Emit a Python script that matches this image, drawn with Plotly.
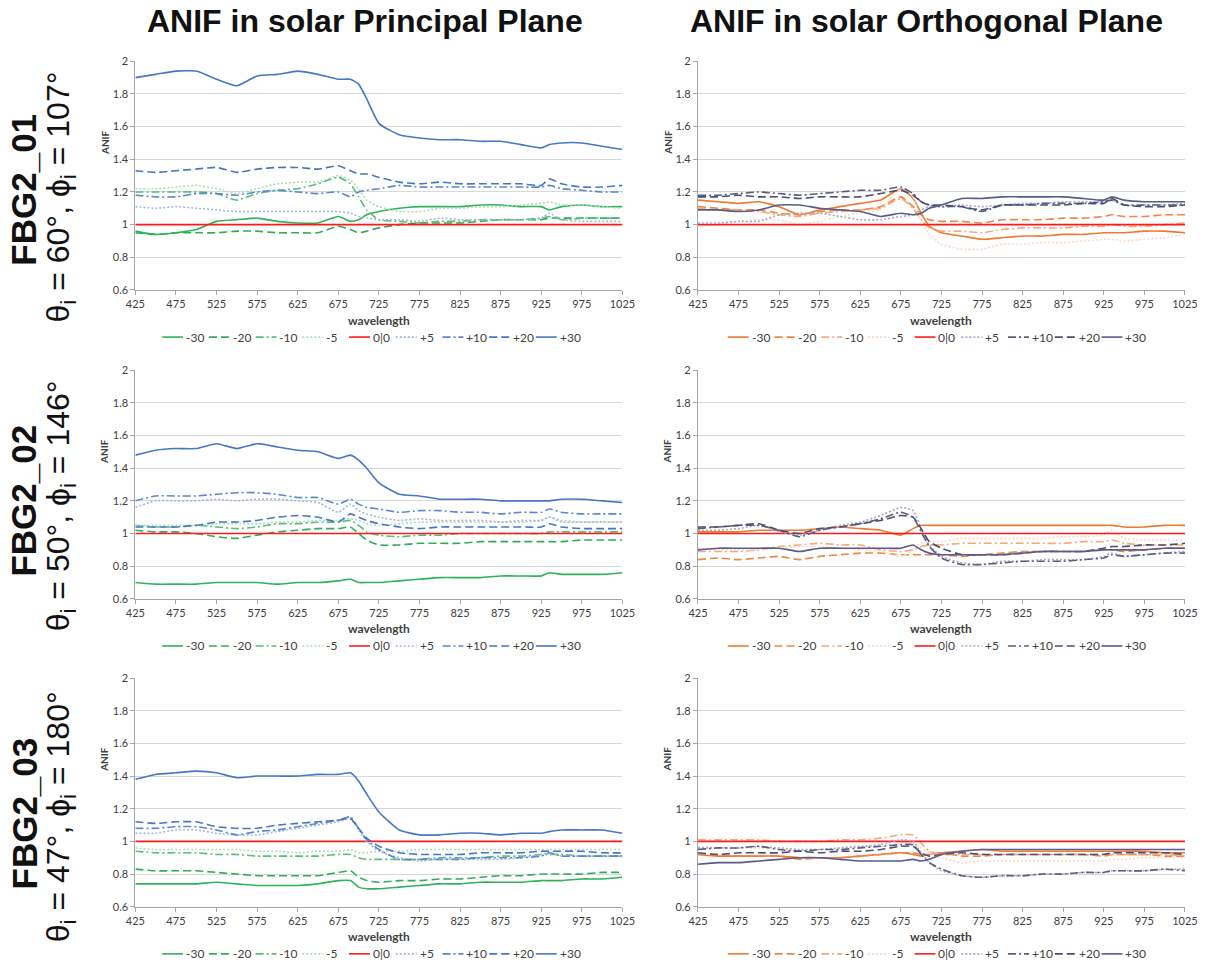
import plotly.graph_objects as go

# ---------------- data ----------------
WAVELENGTH = [425, 450, 475, 500, 525, 550, 575, 600, 625, 650, 675, 690, 700, 710,
              725, 750, 775, 800, 825, 850, 875, 900, 925, 935, 950, 975, 1000, 1025]
SERIES = ["-30", "-20", "-10", "-5", "0|0", "+5", "+10", "+20", "+30"]
X_TICKS = [425, 475, 525, 575, 625, 675, 725, 775, 825, 875, 925, 975, 1025]
Y_TICKS = [0.6, 0.8, 1.0, 1.2, 1.4, 1.6, 1.8, 2.0]
Y_TICK_TEXT = ["0.6", "0.8", "1", "1.2", "1.4", "1.6", "1.8", "2"]
REF_LINE = [1.0, 1.0, 1.0, 1.0, 1.0, 1.0, 1.0, 1.0, 1.0, 1.0, 1.0, 1.0, 1.0, 1.0,
            1.0, 1.0, 1.0, 1.0, 1.0, 1.0, 1.0, 1.0, 1.0, 1.0, 1.0, 1.0, 1.0, 1.0]

COL_TITLES = ["ANIF in solar Principal Plane", "ANIF in solar Orthogonal Plane"]
ROW_NAMES = ["FBG2_01", "FBG2_02", "FBG2_03"]
ROW_ANGLES = ["θ<sub>i</sub> = 60°, ϕ<sub>i</sub> = 107°",
              "θ<sub>i</sub> = 50°, ϕ<sub>i</sub> = 146°",
              "θ<sub>i</sub> = 47°, ϕ<sub>i</sub> = 180°"]

# FBG2_01 principal plane
PP1_M30 = [0.96, 0.94, 0.95, 0.97, 1.02, 1.03, 1.04, 1.02, 1.01, 1.01, 1.05, 1.02, 1.03, 1.06, 1.08, 1.10, 1.11, 1.11, 1.11, 1.12, 1.12, 1.11, 1.11, 1.09, 1.11, 1.12, 1.11, 1.11]
PP1_M20 = [0.95, 0.94, 0.95, 0.95, 0.95, 0.96, 0.96, 0.95, 0.95, 0.95, 0.99, 0.97, 0.95, 0.96, 0.98, 1.00, 1.01, 1.01, 1.01, 1.02, 1.03, 1.03, 1.03, 1.04, 1.04, 1.04, 1.04, 1.04]
PP1_M10 = [1.20, 1.20, 1.20, 1.20, 1.19, 1.15, 1.19, 1.21, 1.22, 1.25, 1.29, 1.25, 1.17, 1.09, 1.03, 1.02, 1.01, 1.02, 1.02, 1.03, 1.03, 1.03, 1.04, 1.05, 1.03, 1.04, 1.04, 1.04]
PP1_M05 = [1.22, 1.22, 1.23, 1.24, 1.22, 1.19, 1.22, 1.25, 1.26, 1.26, 1.30, 1.27, 1.22, 1.15, 1.11, 1.08, 1.08, 1.10, 1.10, 1.11, 1.11, 1.12, 1.13, 1.14, 1.12, 1.12, 1.11, 1.10]
PP1_P05 = [1.11, 1.10, 1.11, 1.10, 1.09, 1.08, 1.08, 1.08, 1.08, 1.08, 1.08, 1.07, 1.05, 1.04, 1.03, 1.03, 1.02, 1.04, 1.03, 1.03, 1.03, 1.03, 1.04, 1.07, 1.03, 1.02, 1.02, 1.02]
PP1_P10 = [1.18, 1.17, 1.17, 1.19, 1.19, 1.18, 1.20, 1.21, 1.20, 1.19, 1.20, 1.17, 1.20, 1.21, 1.22, 1.24, 1.23, 1.23, 1.23, 1.23, 1.23, 1.23, 1.23, 1.24, 1.22, 1.21, 1.20, 1.20]
PP1_P20 = [1.33, 1.32, 1.33, 1.34, 1.35, 1.32, 1.34, 1.35, 1.35, 1.34, 1.36, 1.33, 1.31, 1.31, 1.29, 1.26, 1.25, 1.26, 1.25, 1.25, 1.25, 1.25, 1.24, 1.28, 1.25, 1.23, 1.23, 1.24]
PP1_P30 = [1.90, 1.92, 1.94, 1.94, 1.89, 1.85, 1.91, 1.92, 1.94, 1.92, 1.89, 1.89, 1.86, 1.77, 1.62, 1.55, 1.53, 1.52, 1.52, 1.51, 1.51, 1.49, 1.47, 1.49, 1.50, 1.50, 1.48, 1.46]

# FBG2_01 orthogonal plane
OP1_M30 = [1.15, 1.14, 1.13, 1.14, 1.11, 1.06, 1.09, 1.11, 1.13, 1.15, 1.22, 1.16, 1.07, 0.99, 0.95, 0.93, 0.91, 0.92, 0.93, 0.93, 0.94, 0.94, 0.95, 0.95, 0.95, 0.96, 0.96, 0.95]
OP1_M20 = [1.11, 1.10, 1.09, 1.09, 1.07, 1.06, 1.08, 1.09, 1.09, 1.11, 1.17, 1.11, 1.06, 1.03, 1.02, 1.02, 1.01, 1.03, 1.03, 1.03, 1.04, 1.04, 1.05, 1.06, 1.05, 1.05, 1.06, 1.06]
OP1_M10 = [1.10, 1.09, 1.09, 1.08, 1.06, 1.05, 1.07, 1.08, 1.09, 1.10, 1.16, 1.10, 1.03, 0.98, 0.96, 0.96, 0.95, 0.97, 0.98, 0.98, 0.98, 0.99, 0.99, 1.00, 0.99, 0.99, 1.00, 1.01]
OP1_M05 = [1.00, 1.00, 1.02, 1.03, 1.03, 1.00, 1.02, 1.05, 1.07, 1.09, 1.23, 1.17, 1.02, 0.94, 0.88, 0.85, 0.85, 0.88, 0.88, 0.89, 0.89, 0.90, 0.91, 0.91, 0.90, 0.91, 0.92, 0.94]
OP1_P05 = [1.01, 1.01, 1.02, 1.02, 1.06, 1.07, 1.07, 1.05, 1.03, 1.03, 1.05, 1.06, 1.09, 1.11, 1.11, 1.12, 1.11, 1.12, 1.13, 1.13, 1.14, 1.14, 1.14, 1.15, 1.12, 1.12, 1.12, 1.13]
OP1_P10 = [1.18, 1.18, 1.19, 1.20, 1.19, 1.18, 1.19, 1.20, 1.21, 1.21, 1.23, 1.19, 1.14, 1.12, 1.11, 1.11, 1.08, 1.12, 1.12, 1.13, 1.13, 1.13, 1.14, 1.15, 1.12, 1.12, 1.12, 1.12]
OP1_P20 = [1.17, 1.17, 1.18, 1.17, 1.17, 1.16, 1.17, 1.17, 1.17, 1.19, 1.21, 1.18, 1.14, 1.12, 1.12, 1.11, 1.09, 1.12, 1.12, 1.12, 1.12, 1.13, 1.13, 1.16, 1.12, 1.11, 1.11, 1.12]
OP1_P30 = [1.09, 1.09, 1.08, 1.09, 1.12, 1.12, 1.10, 1.09, 1.08, 1.05, 1.07, 1.06, 1.07, 1.10, 1.12, 1.16, 1.16, 1.17, 1.17, 1.17, 1.17, 1.16, 1.15, 1.17, 1.15, 1.14, 1.14, 1.14]

# FBG2_02 principal plane
PP2_M30 = [0.70, 0.69, 0.69, 0.69, 0.70, 0.70, 0.70, 0.69, 0.70, 0.70, 0.71, 0.72, 0.70, 0.70, 0.70, 0.71, 0.72, 0.73, 0.73, 0.73, 0.74, 0.74, 0.74, 0.76, 0.75, 0.75, 0.75, 0.76]
PP2_M20 = [1.02, 1.01, 1.01, 1.00, 0.98, 0.97, 0.99, 1.01, 1.02, 1.03, 1.03, 1.04, 1.00, 0.96, 0.93, 0.93, 0.94, 0.94, 0.94, 0.95, 0.95, 0.95, 0.95, 0.95, 0.95, 0.96, 0.96, 0.96]
PP2_M10 = [1.05, 1.04, 1.04, 1.05, 1.04, 1.03, 1.04, 1.06, 1.06, 1.07, 1.07, 1.08, 1.05, 1.01, 0.99, 0.98, 0.99, 0.99, 1.00, 1.00, 1.00, 1.00, 1.00, 1.01, 1.01, 1.01, 1.01, 1.01]
PP2_M05 = [1.05, 1.05, 1.05, 1.05, 1.06, 1.06, 1.06, 1.07, 1.07, 1.08, 1.08, 1.09, 1.08, 1.06, 1.05, 1.06, 1.07, 1.07, 1.07, 1.07, 1.07, 1.07, 1.08, 1.10, 1.08, 1.07, 1.07, 1.07]
PP2_P05 = [1.16, 1.20, 1.20, 1.20, 1.21, 1.20, 1.21, 1.21, 1.20, 1.19, 1.13, 1.18, 1.14, 1.12, 1.10, 1.08, 1.09, 1.08, 1.08, 1.08, 1.07, 1.08, 1.08, 1.10, 1.07, 1.07, 1.07, 1.07]
PP2_P10 = [1.20, 1.23, 1.23, 1.23, 1.24, 1.25, 1.25, 1.24, 1.22, 1.22, 1.18, 1.21, 1.18, 1.16, 1.15, 1.13, 1.14, 1.14, 1.13, 1.13, 1.12, 1.13, 1.13, 1.15, 1.13, 1.12, 1.12, 1.12]
PP2_P20 = [1.04, 1.04, 1.04, 1.05, 1.07, 1.07, 1.08, 1.10, 1.11, 1.10, 1.07, 1.12, 1.10, 1.08, 1.06, 1.04, 1.03, 1.04, 1.04, 1.04, 1.04, 1.04, 1.04, 1.06, 1.04, 1.03, 1.03, 1.03]
PP2_P30 = [1.48, 1.51, 1.52, 1.52, 1.55, 1.52, 1.55, 1.53, 1.51, 1.50, 1.46, 1.48, 1.45, 1.40, 1.31, 1.24, 1.23, 1.21, 1.21, 1.21, 1.20, 1.20, 1.20, 1.20, 1.21, 1.21, 1.20, 1.19]

# FBG2_02 orthogonal plane
OP2_M30 = [1.01, 1.01, 1.01, 1.02, 1.02, 1.02, 1.03, 1.04, 1.03, 1.02, 0.99, 1.03, 1.05, 1.05, 1.05, 1.05, 1.05, 1.05, 1.05, 1.05, 1.05, 1.05, 1.05, 1.05, 1.04, 1.04, 1.05, 1.05]
OP2_M20 = [0.84, 0.85, 0.84, 0.85, 0.86, 0.84, 0.86, 0.87, 0.88, 0.88, 0.87, 0.87, 0.87, 0.87, 0.87, 0.86, 0.87, 0.88, 0.89, 0.89, 0.89, 0.89, 0.90, 0.90, 0.89, 0.90, 0.91, 0.91]
OP2_M10 = [0.89, 0.89, 0.89, 0.90, 0.92, 0.93, 0.94, 0.93, 0.93, 0.90, 0.89, 0.90, 0.92, 0.93, 0.93, 0.94, 0.94, 0.94, 0.94, 0.94, 0.94, 0.95, 0.95, 0.96, 0.94, 0.93, 0.93, 0.93]
OP2_M05 = [0.91, 0.90, 0.90, 0.90, 0.91, 0.92, 0.92, 0.91, 0.90, 0.89, 0.86, 0.90, 0.94, 0.95, 0.95, 0.97, 0.97, 0.97, 0.97, 0.97, 0.98, 0.98, 0.99, 1.02, 0.97, 0.96, 0.96, 0.96]
OP2_P05 = [1.02, 1.02, 1.03, 1.05, 1.01, 0.99, 1.02, 1.05, 1.07, 1.11, 1.16, 1.14, 1.03, 0.93, 0.86, 0.82, 0.81, 0.83, 0.83, 0.84, 0.84, 0.84, 0.86, 0.88, 0.86, 0.87, 0.88, 0.89]
OP2_P10 = [1.03, 1.04, 1.05, 1.05, 1.02, 0.98, 1.02, 1.04, 1.06, 1.09, 1.13, 1.10, 1.01, 0.92, 0.85, 0.81, 0.81, 0.82, 0.83, 0.83, 0.83, 0.84, 0.85, 0.87, 0.86, 0.87, 0.88, 0.88]
OP2_P20 = [1.04, 1.04, 1.05, 1.06, 1.02, 1.00, 1.03, 1.04, 1.06, 1.08, 1.11, 1.10, 1.03, 0.95, 0.91, 0.87, 0.87, 0.87, 0.88, 0.89, 0.89, 0.89, 0.91, 0.92, 0.92, 0.93, 0.93, 0.94]
OP2_P30 = [0.90, 0.91, 0.91, 0.91, 0.91, 0.89, 0.91, 0.91, 0.91, 0.91, 0.91, 0.93, 0.90, 0.88, 0.87, 0.87, 0.87, 0.87, 0.88, 0.89, 0.89, 0.89, 0.90, 0.90, 0.90, 0.90, 0.91, 0.91]

# FBG2_03 principal plane
PP3_M30 = [0.74, 0.74, 0.74, 0.74, 0.75, 0.74, 0.73, 0.73, 0.73, 0.74, 0.76, 0.76, 0.72, 0.71, 0.71, 0.72, 0.73, 0.74, 0.74, 0.75, 0.75, 0.75, 0.76, 0.76, 0.76, 0.77, 0.77, 0.78]
PP3_M20 = [0.83, 0.82, 0.82, 0.82, 0.81, 0.80, 0.79, 0.79, 0.79, 0.79, 0.81, 0.82, 0.78, 0.76, 0.75, 0.76, 0.76, 0.77, 0.77, 0.78, 0.79, 0.79, 0.80, 0.80, 0.80, 0.80, 0.81, 0.81]
PP3_M10 = [0.94, 0.93, 0.93, 0.93, 0.92, 0.92, 0.91, 0.91, 0.91, 0.91, 0.92, 0.92, 0.90, 0.89, 0.89, 0.89, 0.89, 0.90, 0.90, 0.90, 0.91, 0.91, 0.92, 0.92, 0.92, 0.91, 0.91, 0.91]
PP3_M05 = [0.96, 0.95, 0.95, 0.95, 0.95, 0.95, 0.94, 0.94, 0.93, 0.94, 0.94, 0.95, 0.93, 0.93, 0.94, 0.94, 0.95, 0.95, 0.95, 0.95, 0.95, 0.95, 0.95, 0.95, 0.95, 0.95, 0.95, 0.95]
PP3_P05 = [1.05, 1.05, 1.07, 1.07, 1.05, 1.04, 1.04, 1.06, 1.08, 1.10, 1.12, 1.14, 1.07, 1.00, 0.94, 0.90, 0.88, 0.89, 0.89, 0.89, 0.89, 0.90, 0.92, 0.93, 0.91, 0.91, 0.91, 0.91]
PP3_P10 = [1.08, 1.08, 1.09, 1.09, 1.07, 1.04, 1.06, 1.07, 1.09, 1.11, 1.13, 1.15, 1.08, 1.01, 0.95, 0.89, 0.89, 0.89, 0.89, 0.90, 0.90, 0.90, 0.91, 0.93, 0.91, 0.91, 0.91, 0.91]
PP3_P20 = [1.12, 1.11, 1.12, 1.12, 1.09, 1.08, 1.08, 1.10, 1.11, 1.12, 1.13, 1.14, 1.08, 1.02, 0.97, 0.93, 0.92, 0.92, 0.92, 0.93, 0.93, 0.93, 0.94, 0.94, 0.94, 0.94, 0.93, 0.93]
PP3_P30 = [1.38, 1.41, 1.42, 1.43, 1.42, 1.39, 1.40, 1.40, 1.40, 1.41, 1.41, 1.42, 1.37, 1.29, 1.18, 1.07, 1.04, 1.04, 1.05, 1.05, 1.04, 1.05, 1.05, 1.06, 1.07, 1.07, 1.07, 1.05]

# FBG2_03 orthogonal plane
OP3_M30 = [0.92, 0.91, 0.91, 0.91, 0.91, 0.90, 0.90, 0.90, 0.91, 0.92, 0.93, 0.92, 0.91, 0.92, 0.93, 0.94, 0.95, 0.94, 0.94, 0.94, 0.94, 0.94, 0.94, 0.94, 0.94, 0.94, 0.93, 0.93]
OP3_M20 = [0.92, 0.92, 0.91, 0.91, 0.91, 0.89, 0.90, 0.90, 0.91, 0.92, 0.93, 0.93, 0.92, 0.92, 0.93, 0.91, 0.91, 0.92, 0.92, 0.92, 0.92, 0.92, 0.91, 0.92, 0.92, 0.92, 0.91, 0.91]
OP3_M10 = [1.01, 1.01, 1.01, 1.01, 1.00, 1.00, 1.00, 1.01, 1.01, 1.02, 1.04, 1.04, 0.99, 0.94, 0.92, 0.92, 0.92, 0.92, 0.92, 0.92, 0.92, 0.92, 0.92, 0.92, 0.92, 0.92, 0.92, 0.91]
OP3_M05 = [0.97, 0.96, 0.96, 0.96, 0.95, 0.95, 0.95, 0.96, 0.97, 0.97, 0.99, 0.99, 0.96, 0.93, 0.90, 0.87, 0.88, 0.88, 0.88, 0.88, 0.88, 0.88, 0.88, 0.89, 0.89, 0.90, 0.90, 0.90]
OP3_P05 = [0.96, 0.96, 0.96, 0.97, 0.96, 0.95, 0.95, 0.96, 0.97, 0.98, 1.01, 1.00, 0.93, 0.87, 0.82, 0.79, 0.78, 0.79, 0.79, 0.80, 0.80, 0.81, 0.81, 0.82, 0.82, 0.82, 0.83, 0.83]
OP3_P10 = [0.95, 0.96, 0.96, 0.97, 0.95, 0.94, 0.95, 0.95, 0.96, 0.97, 0.98, 0.98, 0.92, 0.87, 0.83, 0.79, 0.78, 0.79, 0.79, 0.80, 0.80, 0.81, 0.81, 0.82, 0.82, 0.82, 0.83, 0.82]
OP3_P20 = [0.93, 0.92, 0.93, 0.93, 0.93, 0.94, 0.93, 0.94, 0.94, 0.95, 0.97, 0.97, 0.93, 0.91, 0.92, 0.93, 0.92, 0.92, 0.92, 0.92, 0.92, 0.92, 0.92, 0.93, 0.93, 0.93, 0.93, 0.92]
OP3_P30 = [0.86, 0.87, 0.87, 0.88, 0.89, 0.90, 0.90, 0.89, 0.88, 0.88, 0.88, 0.89, 0.88, 0.89, 0.92, 0.94, 0.95, 0.95, 0.95, 0.95, 0.95, 0.95, 0.95, 0.95, 0.95, 0.95, 0.95, 0.95]

PANEL_DATA = [
    [PP1_M30, PP1_M20, PP1_M10, PP1_M05, REF_LINE, PP1_P05, PP1_P10, PP1_P20, PP1_P30],
    [OP1_M30, OP1_M20, OP1_M10, OP1_M05, REF_LINE, OP1_P05, OP1_P10, OP1_P20, OP1_P30],
    [PP2_M30, PP2_M20, PP2_M10, PP2_M05, REF_LINE, PP2_P05, PP2_P10, PP2_P20, PP2_P30],
    [OP2_M30, OP2_M20, OP2_M10, OP2_M05, REF_LINE, OP2_P05, OP2_P10, OP2_P20, OP2_P30],
    [PP3_M30, PP3_M20, PP3_M10, PP3_M05, REF_LINE, PP3_P05, PP3_P10, PP3_P20, PP3_P30],
    [OP3_M30, OP3_M20, OP3_M10, OP3_M05, REF_LINE, OP3_P05, OP3_P10, OP3_P20, OP3_P30],
]

# ---------------- styles ----------------
W, H = 1214, 965
COLORS_PP = ["#2eb35a", "#2eae58", "#56bf78", "#aedbb9", "#ff1a1a",
             "#a3b8da", "#5a88cc", "#4676c4", "#4677c6"]
COLORS_OP = ["#ee7a30", "#ef8642", "#f4ab7a", "#f8dac6", "#ff1a1a",
             "#a6a9c8", "#5b5d80", "#4d4f72", "#5a5b8c"]
DASHES = ["solid", "8px,4px", "8px,3px,2px,3px", "2px,2px", "solid",
          "2px,2px", "8px,3px,2px,3px", "8px,4px", "solid"]

# layout positions in target-picture pixels
X_DOM = [(134, 624), (700, 1190)]
Y_DOM = [(62, 290), (370, 598), (677, 905)]
LEG_START = [27, 30]
LEG_PITCH = 47
PAGE_PAD = 8  # default page margin around the figure


def px(x):
    return (x * (W + 2 * PAGE_PAD) / W - PAGE_PAD) / W


def py(y):
    return 1 - (y * (H + 2 * PAGE_PAD) / H - PAGE_PAD) / H


TICKFONT = dict(family="Lato", size=11, color="#404040")
fig = go.Figure()
layout = dict(width=W, height=H, margin=dict(l=0, r=0, t=0, b=0),
              paper_bgcolor="white", plot_bgcolor="white", annotations=[],
              shapes=[], showlegend=False)

for p in range(6):
    row, col = divmod(p, 2)
    n = "" if p == 0 else str(p + 1)
    colors = COLORS_PP if col == 0 else COLORS_OP
    for s, name in enumerate(SERIES):
        fig.add_trace(go.Scatter(
            x=WAVELENGTH, y=PANEL_DATA[p][s], name=name, mode="lines",
            line=dict(color=colors[s], width=1.6, dash=DASHES[s],
                      shape="spline", smoothing=0.5),
            xaxis="x" + n, yaxis="y" + n))
    x0, x1 = X_DOM[col]
    y0, y1 = Y_DOM[row]
    layout["xaxis" + n] = dict(
        domain=[px(x0), px(x1)], range=[425, 1025], tickmode="array",
        tickvals=X_TICKS, ticktext=[str(t) for t in X_TICKS],
        ticks="outside", ticklen=4, tickcolor="#a6a6a6", showline=True,
        linecolor="#a6a6a6", linewidth=1, showgrid=False, zeroline=False,
        anchor="y" + n, tickfont=TICKFONT)
    layout["yaxis" + n] = dict(
        domain=[py(y1), py(y0)], range=[0.6, 2.0], tickmode="array",
        tickvals=Y_TICKS, ticktext=Y_TICK_TEXT, ticks="outside", ticklen=4,
        tickcolor="#a6a6a6", showline=True, linecolor="#a6a6a6", linewidth=1,
        showgrid=True, gridcolor="#d9d9d9", gridwidth=1, zeroline=False,
        anchor="x" + n, tickfont=TICKFONT)
    # legend row (key line + label) under each panel
    ly = y1 + 47
    for s, name in enumerate(SERIES):
        lx = x0 + LEG_START[col] + s * LEG_PITCH
        layout["shapes"].append(dict(
            type="line", xref="paper", yref="paper", x0=px(lx), x1=px(lx + 21),
            y0=py(ly), y1=py(ly), line=dict(color=colors[s], width=1.6, dash=DASHES[s])))
        layout["annotations"].append(dict(
            text=name, x=px(lx + 22), y=py(ly), xref="paper", yref="paper",
            showarrow=False, xanchor="left", yanchor="middle",
            font=dict(family="Lato", size=12, color="#404040")))
    # axis titles
    layout["annotations"].append(dict(
        text="<b>wavelength</b>", x=px((x0 + x1) / 2), y=py(y1 + 30),
        xref="paper", yref="paper", showarrow=False, xanchor="center",
        yanchor="middle", font=dict(family="Lato", size=12, color="#404040")))
    layout["annotations"].append(dict(
        text="<b>ANIF</b>", x=px(x0 - 31), y=py(y0 + 81), textangle=-90,
        xref="paper", yref="paper", showarrow=False, xanchor="center",
        yanchor="middle", font=dict(family="Lato", size=10, color="#404040")))

# column titles
for col, t in enumerate(COL_TITLES):
    cx = [365, 930][col]
    layout["annotations"].append(dict(
        text="<b>" + t + "</b>", x=px(cx), y=py(22), xref="paper", yref="paper",
        showarrow=False, xanchor="center", yanchor="middle",
        font=dict(family="Liberation Sans", size=32, color="#111111")))

# row labels
ROW_CENTERS = [(190, 197), (500, 505), (812, 815)]
for r in range(3):
    c1, c2 = ROW_CENTERS[r]
    layout["annotations"].append(dict(
        text="<b>" + ROW_NAMES[r] + "</b>", x=px(22), y=py(c1), textangle=-90,
        xref="paper", yref="paper", showarrow=False, xanchor="center",
        yanchor="middle", font=dict(family="Liberation Sans", size=35, color="#111111")))
    layout["annotations"].append(dict(
        text=ROW_ANGLES[r], x=px(59), y=py(c2), textangle=-90,
        xref="paper", yref="paper", showarrow=False, xanchor="center",
        yanchor="middle", font=dict(family="Liberation Sans", size=32, color="#111111")))

fig.update_layout(**layout)
fig.write_html("out.html")
